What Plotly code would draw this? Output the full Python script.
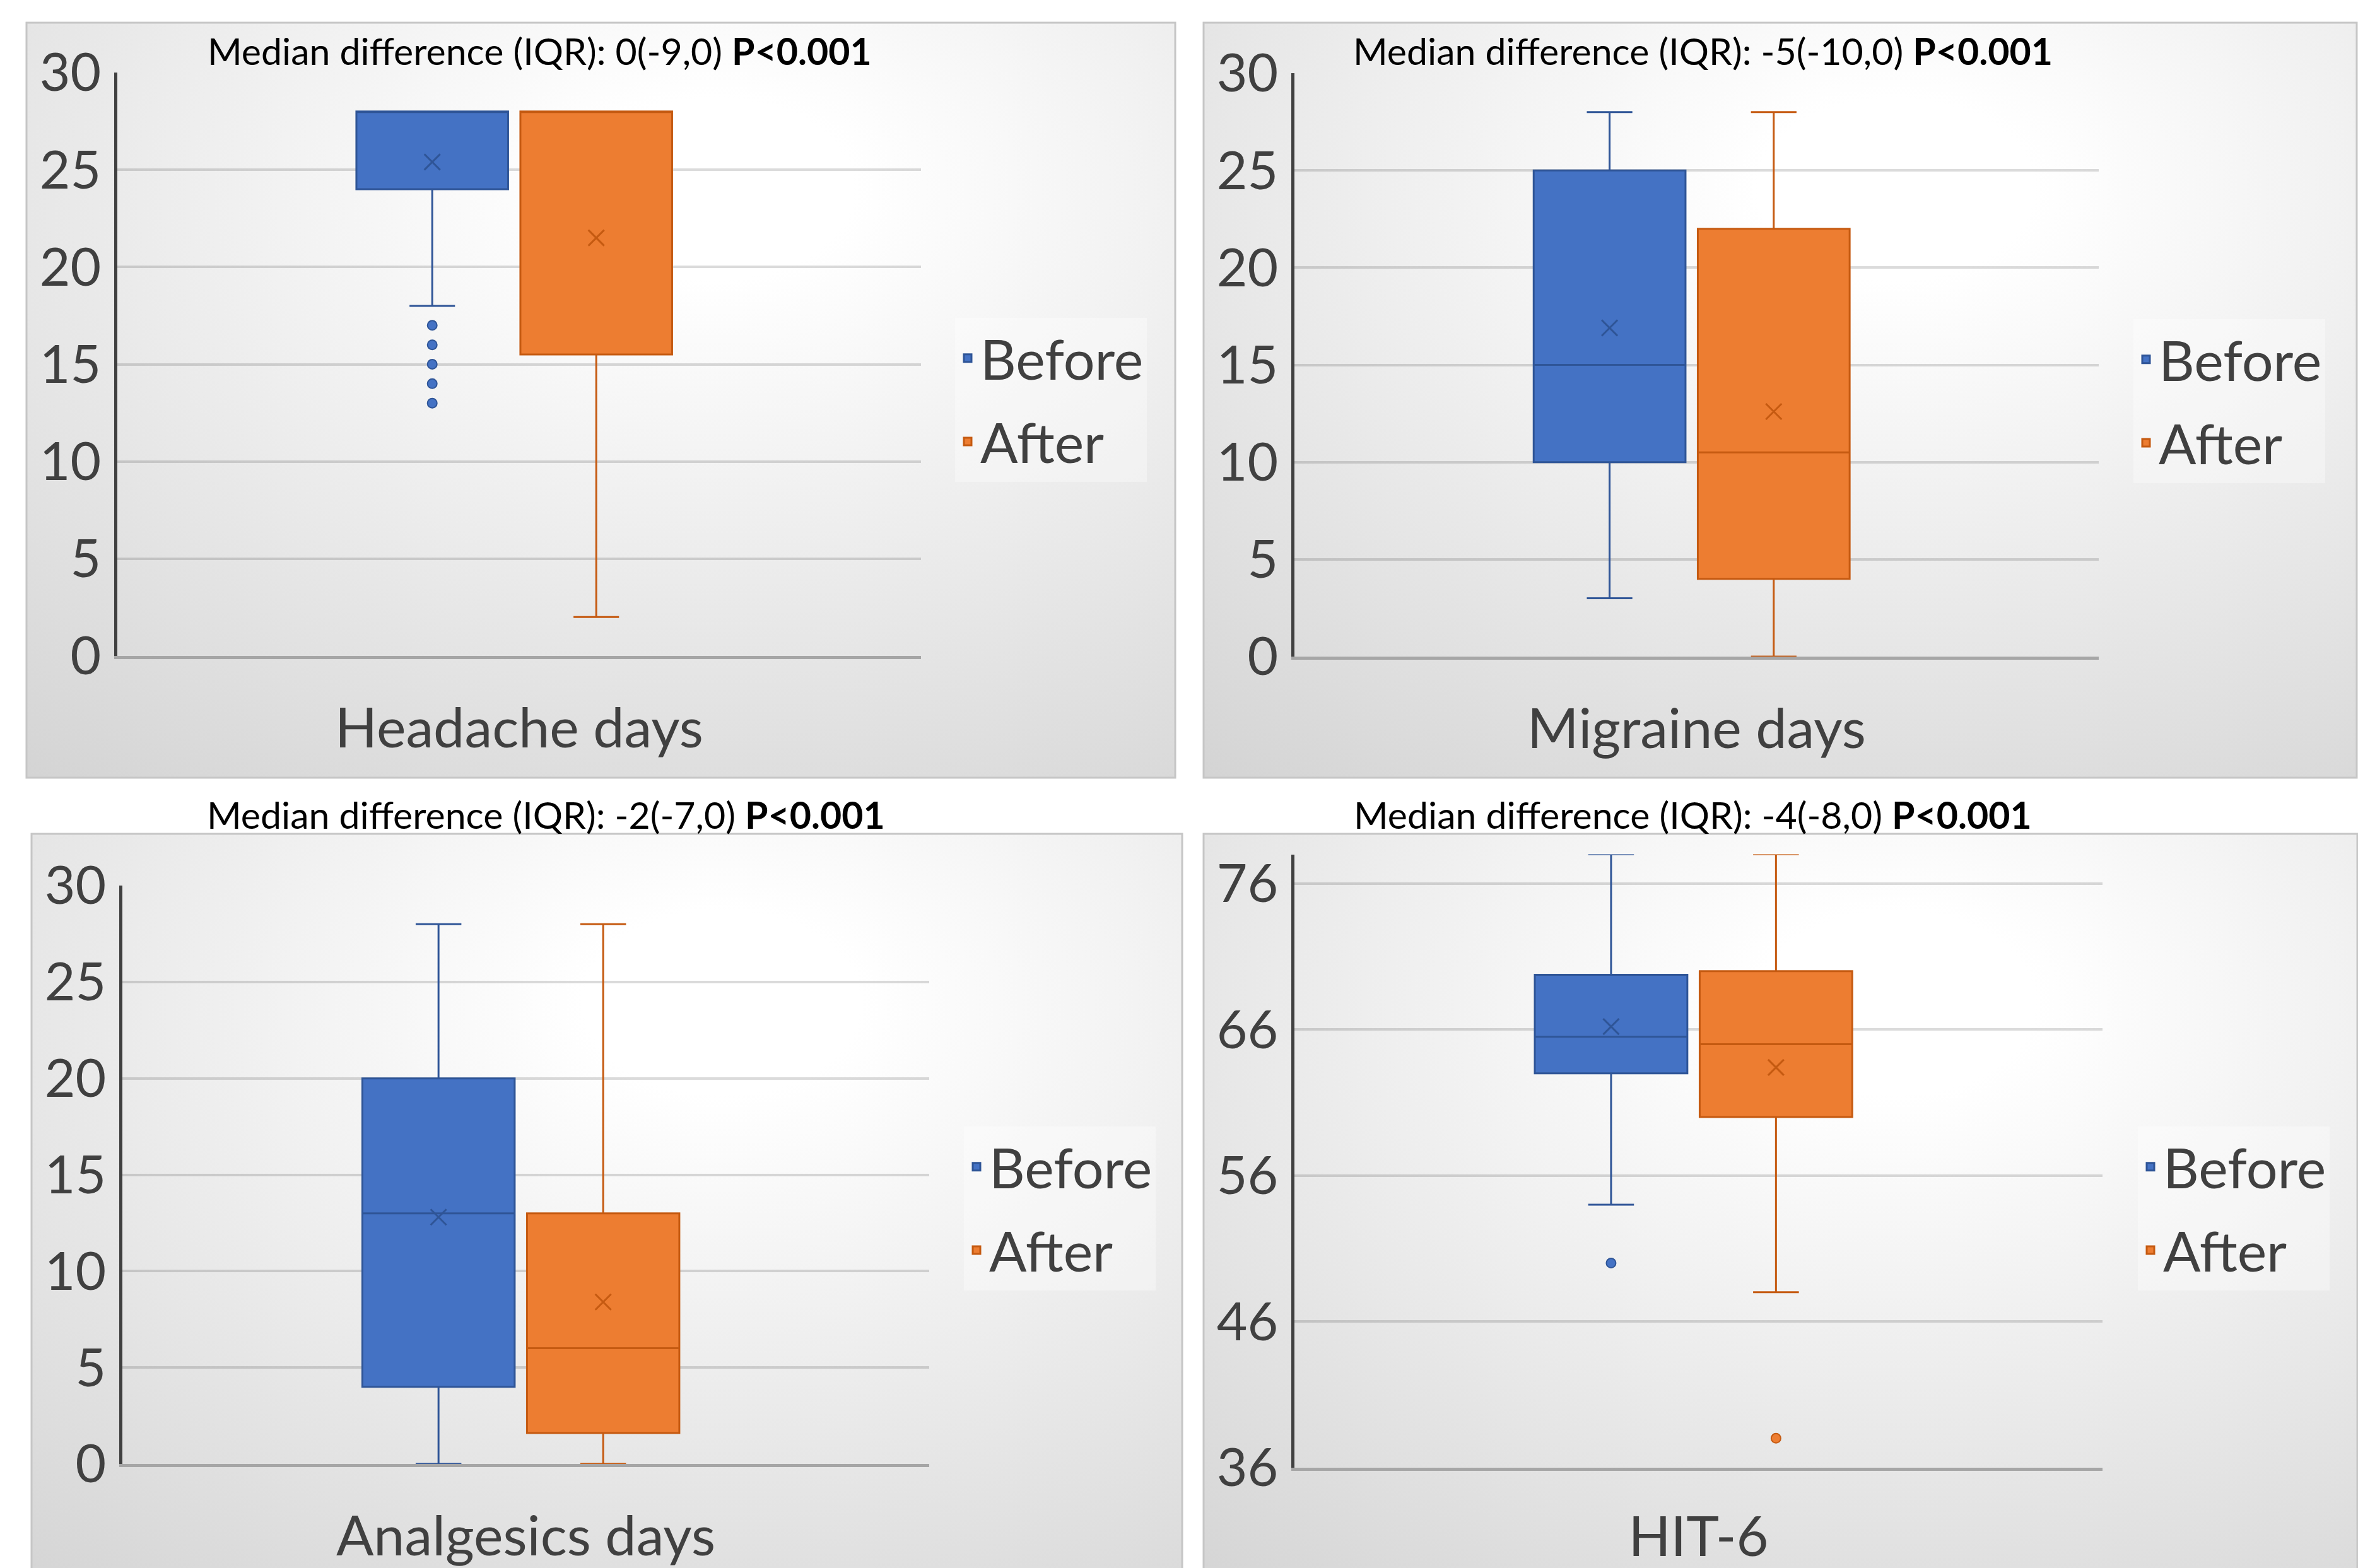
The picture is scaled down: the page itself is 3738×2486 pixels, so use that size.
import base64
import plotly.graph_objects as go

# ---------------- data ----------------
categories = ["Headache days", "Migraine days", "Analgesics days", "HIT-6"]
groups = ["Before", "After"]
diff_labels = ["0(-9,0)", "-5(-10,0)", "-2(-7,0)", "-4(-8,0)"]
p_labels = ["P<0.001", "P<0.001", "P<0.001", "P<0.001"]

before_q1 = [24, 10, 4, 63]
before_median = [28, 15, 13, 65.5]
before_q3 = [28, 25, 20, 69.75]
before_lower = [18, 3, 0, 54]
before_upper = [28, 28, 28, 78]
before_mean = [25.4, 16.9, 12.8, 66.2]
before_outliers = [[17, 16, 15, 14, 13], [], [], [50]]

after_q1 = [15.5, 4, 1.6, 60]
after_median = [28, 10.5, 6, 65]
after_q3 = [28, 22, 13, 70]
after_lower = [2, 0, 0, 48]
after_upper = [28, 28, 28, 78]
after_mean = [21.5, 12.6, 8.4, 63.4]
after_outliers = [[], [], [], [38]]

y_ranges = [[0, 30], [0, 30], [0, 30], [36, 78]]
y_ticks = [[0, 5, 10, 15, 20, 25, 30], [0, 5, 10, 15, 20, 25, 30],
           [0, 5, 10, 15, 20, 25, 30], [36, 46, 56, 66, 76]]

# ---------------- layout geometry (px) ----------------
W, H = 3738, 2486
panels = [
    dict(plot=(186, 1460, 115, 1040), card=(42, 1863, 36, 1233), title=(855, 80), legend=(1562, 576)),
    dict(plot=(2052, 3327, 116, 1041), card=(1908, 3736, 36, 1233), title=(2699, 80), legend=(3430, 578)),
    dict(plot=(194, 1473, 1404, 2321), card=(50, 1874, 1322, 2540), title=(865, 1291), legend=(1576, 1858)),
    dict(plot=(2052, 3333, 1354.5, 2326.6), card=(1908, 3737, 1322, 2540), title=(2683, 1291), legend=(3437, 1858)),
]

FONT = "Lato, 'Open Sans', sans-serif"
TXT = "#404040"
BLUE, BLUE_D = "#4472C4", "#2F5597"
ORANGE, ORANGE_D = "#ED7D31", "#C55A11"
LABEL_SIZE = 88
TICK_SIZE = 84

svg = ("<svg xmlns='http://www.w3.org/2000/svg' width='400' height='300' viewBox='0 0 400 300' "
       "preserveAspectRatio='none'><defs><radialGradient id='g' cx='0.6' cy='0.22' r='1.0' fx='0.6' fy='0.22'>"
       "<stop offset='0' stop-color='#ffffff'/><stop offset='0.12' stop-color='#ffffff'/>"
       "<stop offset='1' stop-color='#d3d3d3'/></radialGradient></defs>"
       "<rect width='400' height='300' fill='url(#g)'/></svg>")
svg_src = "data:image/svg+xml;base64," + base64.b64encode(svg.encode()).decode()

fig = go.Figure()
series = [
    ("Before", before_q1, before_median, before_q3, before_lower, before_upper, before_mean, before_outliers, BLUE, BLUE_D),
    ("After", after_q1, after_median, after_q3, after_lower, after_upper, after_mean, after_outliers, ORANGE, ORANGE_D),
]

layout_updates = {}
annotations, shapes, images = [], [], []
for i, pan in enumerate(panels):
    ax = "" if i == 0 else str(i + 1)
    xr, yr = "x" + ax, "y" + ax
    leg = "legend" if i == 0 else f"legend{i + 1}"
    for (g, q1, med, q3, lo, up, mean, outl, fill, dark) in series:
        fig.add_trace(go.Box(
            x=[g], q1=[q1[i]], median=[med[i]], q3=[q3[i]],
            lowerfence=[lo[i]], upperfence=[up[i]], name=g, orientation="v",
            fillcolor=fill, line=dict(color=dark, width=3), whiskerwidth=0.3,
            width=0.925, boxpoints=False, xaxis=xr, yaxis=yr, legend=leg,
            legendgroup=f"{g}{i}", showlegend=True))
        fig.add_trace(go.Scatter(
            x=[g], y=[mean[i]], mode="markers", showlegend=False, xaxis=xr, yaxis=yr,
            marker=dict(symbol="x-thin", size=25, line=dict(width=3, color=dark))))
        if outl[i]:
            fig.add_trace(go.Scatter(
                x=[g] * len(outl[i]), y=outl[i], mode="markers", showlegend=False,
                xaxis=xr, yaxis=yr,
                marker=dict(symbol="circle", size=15, color=fill, line=dict(width=2, color=dark))))

    x0, x1, y0, y1 = pan["plot"]
    layout_updates["xaxis" + ax] = dict(
        domain=[x0 / W, x1 / W], anchor=yr, type="category", categoryorder="array",
        categoryarray=groups, range=[-1.92, 2.98], showticklabels=False, showgrid=False,
        zeroline=False, showline=True, linecolor="#a6a6a6", linewidth=5, ticks="",
        layer="below traces", fixedrange=True, automargin=False,
        title=dict(text=categories[i], font=dict(family=FONT, size=LABEL_SIZE, color=TXT), standoff=81))
    layout_updates["yaxis" + ax] = dict(
        domain=[1 - y1 / H, 1 - y0 / H], anchor=xr, range=y_ranges[i], tickvals=y_ticks[i],
        showgrid=True, gridcolor="rgba(0,0,0,0.14)", gridwidth=4, zeroline=False,
        showline=True, linecolor="#404040", linewidth=5, ticks="", layer="below traces",
        automargin=False, fixedrange=True,
        tickfont=dict(family=FONT, size=TICK_SIZE, color=TXT), ticklabelstandoff=4)
    lx, ly = pan["legend"]
    layout_updates[leg] = dict(
        x=(lx - 48) / W, y=1 - (ly - 72) / H, xanchor="left", yanchor="top",
        bgcolor="rgba(255,255,255,0.35)", font=dict(family=FONT, size=LABEL_SIZE, color=TXT),
        tracegroupgap=15)

    tx, ty = pan["title"]
    annotations.append(dict(
        text=f"Median difference (IQR): {diff_labels[i]} <b>{p_labels[i].replace('<', '&lt;')}</b>",
        x=tx / W, y=1 - ty / H, xref="paper", yref="paper", xanchor="center", yanchor="middle",
        showarrow=False, font=dict(family=FONT, size=59, color="#000000")))

    cx0, cx1, cy0, cy1 = pan["card"]
    images.append(dict(source=svg_src, xref="paper", yref="paper", x=cx0 / W, y=1 - cy0 / H,
                       sizex=(cx1 - cx0) / W, sizey=(cy1 - cy0) / H, xanchor="left", yanchor="top",
                       sizing="stretch", layer="below"))
    shapes.append(dict(type="rect", xref="paper", yref="paper", x0=cx0 / W, x1=cx1 / W,
                       y0=1 - cy1 / H, y1=1 - cy0 / H, line=dict(color="#c6c6c6", width=3),
                       fillcolor="rgba(0,0,0,0)", layer="below"))

fig.update_layout(
    width=W, height=H, margin=dict(l=0, r=0, t=0, b=0, autoexpand=False),
    paper_bgcolor="#ffffff", plot_bgcolor="rgba(0,0,0,0)",
    boxmode="overlay", font=dict(family=FONT, color=TXT),
    annotations=annotations, shapes=shapes, images=images, **layout_updates)

fig.write_html("out.html", post_script="document.body.style.margin='0px';",
               config={"displayModeBar": False})
